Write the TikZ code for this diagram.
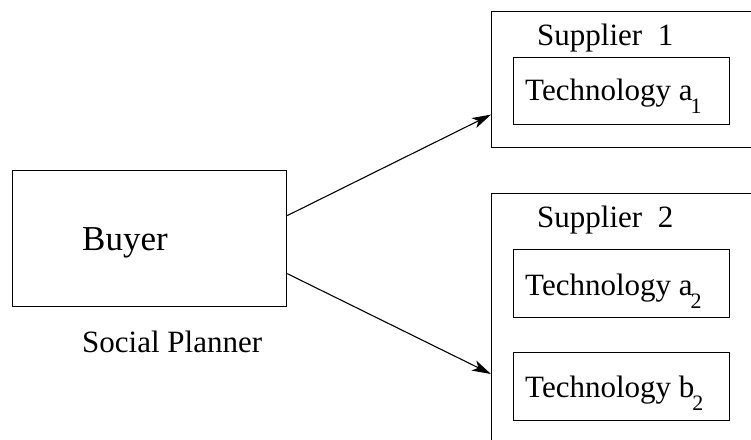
\documentclass[tikz,border=0pt]{standalone}
\usepackage{fontspec}
\setmainfont{Liberation Serif}
\usetikzlibrary{arrows.meta,calc}
\tikzset{
  box/.style={draw, line width=1.2pt, rectangle, inner sep=0pt, anchor=north west},
  lbl/.style={anchor=base west, inner sep=0pt, font=\fontsize{31}{35}\selectfont},
  arr/.style={line width=1.1pt, -{Stealth[length=19pt,width=11pt,inset=5pt]}}
}
\newcommand{\sub}[1]{\kern-2pt\raisebox{-0.45em}{\fontsize{22}{24}\selectfont #1}}
\begin{document}
\begin{tikzpicture}[x=1pt,y=-1pt]
\useasboundingbox (0,0) rectangle (751,439);
\clip (0,0) rectangle (751,439);

% buyer side
\node[box, minimum width=274pt, minimum height=136pt] (buyer) at (12,170) {};
\node[anchor=base west, inner sep=0pt, font=\fontsize{35}{40}\selectfont] (buyertxt) at (82,250) {Buyer};
\node[lbl] (planner) at (82,352) {Social Planner};

% supplier 1
\node[box, minimum width=280pt, minimum height=136pt] (s1) at (491,11) {};
\node[lbl] (s1txt) at (537,45) {Supplier\ \ 1};
\node[box, minimum width=216pt, minimum height=67pt] (ta1) at (513,57) {};
\node[lbl] (ta1txt) at (525,100) {Technology a\sub{1}};

% supplier 2
\node[box, minimum width=280pt, minimum height=260pt] (s2) at (491,193) {};
\node[lbl] (s2txt) at (537,227) {Supplier\ \ 2};
\node[box, minimum width=216pt, minimum height=68pt] (ta2) at (513,249) {};
\node[lbl] (ta2txt) at (525,295) {Technology a\sub{2}};
\node[box, minimum width=216pt, minimum height=68pt] (tb2) at (513,352) {};
\node[lbl] (tb2txt) at (525,397) {Technology b\sub{2}};

% connectors
\draw[arr] ($(buyer.east)+(0,-23)$) -- ($(s1.west)+(0,35)$);
\draw[arr] ($(buyer.east)+(0,35)$) -- (s2.west |- 0,374);
\end{tikzpicture}
\end{document}
